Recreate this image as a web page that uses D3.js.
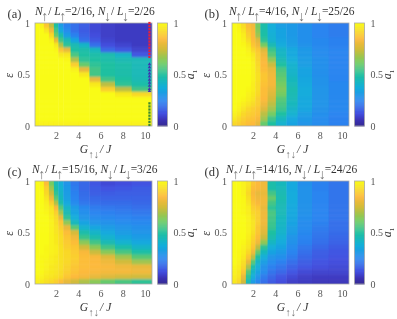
<!DOCTYPE html>
<html>
<head>
<meta charset="utf-8">
<script src="https://cdn.jsdelivr.net/npm/d3@7"></script>
<style>
html, body { margin: 0; padding: 0; background: #fff; }
svg { display: block; filter: blur(0.3px); }
text { font-family: "Liberation Serif", serif; fill: #333; }
</style>
</head>
<body>
<div id="chart"></div>
<script>
// G bin edges (columns) and epsilon values (rows, top to bottom)
var gEdges = [0.1, 0.5, 0.9, 1.35, 1.8, 2.2, 2.65, 3.3, 4.05, 5, 6, 7.3, 8.8, 10.63];
var epsRows = [1, .95, .9, .85, .8, .75, .7, .65, .6, .55, .5, .45, .4, .35, .3, .25, .2, .15, .1, .05, 0];
var xTicks = [2, 4, 6, 8, 10];
var yTicks = [0, 0.5, 1];

// a1 in percent, one line per epsilon row
var gridA = [
  [100,98,88,72,50,32,24,20,16,11,9,8,8],
  [100,100,95,82,55,36,27,20,15,11,9,8,8],
  [100,100,100,92,60,48,32,24,17,12,9,8,8],
  [100,100,100,98,80,55,46,34,20,14,10,8,8],
  [100,100,100,100,96,70,52,46,42,20,12,10,8],
  [100,100,100,100,99,88,80,50,48,44,18,14,10],
  [100,100,100,100,100,96,96,56,50,48,47,42,14],
  [100,100,100,100,100,100,99,70,52,50,48,46,45],
  [100,100,100,100,100,100,100,90,60,52,50,48,45],
  [100,100,100,100,100,100,100,98,80,55,50,48,45],
  [100,100,100,100,100,100,100,100,96,55,50,48,45],
  [100,100,100,100,100,100,100,100,100,80,55,50,46],
  [100,100,100,100,100,100,100,100,100,96,72,52,48],
  [100,100,100,100,100,100,100,100,100,100,90,72,55],
  [100,100,100,100,100,100,100,100,100,100,100,96,92],
  [100,100,100,100,100,100,100,100,100,100,100,100,100],
  [100,100,100,100,100,100,100,100,100,100,100,100,100],
  [100,100,100,100,100,100,100,100,100,100,100,100,100],
  [100,100,100,100,100,100,100,100,100,100,100,100,100],
  [100,100,100,100,100,100,100,100,100,100,100,100,100],
  [98,98,98,98,98,98,98,98,98,98,98,98,98]
];
var gridB = [
  [100,98,93,86,82,62,48,38,33,31,28,25,23],
  [100,99,95,88,84,64,48,38,34,31,28,25,23],
  [100,100,97,90,85,68,49,39,34,31,28,25,23],
  [100,100,98,93,86,78,52,40,35,32,28,26,24],
  [100,100,99,96,88,82,62,46,37,33,29,26,24],
  [100,100,100,98,92,88,78,54,42,36,31,27,25],
  [100,100,100,99,96,90,82,58,43,36,31,27,25],
  [100,100,100,100,97,91,84,66,46,38,32,28,25],
  [100,100,100,100,98,92,85,74,50,40,33,28,25],
  [100,100,100,100,98,93,86,80,56,41,34,28,25],
  [100,100,100,100,98,94,88,82,58,42,34,28,25],
  [100,100,100,100,98,94,88,83,60,44,35,29,25],
  [100,100,100,100,97,93,87,83,62,45,36,29,26],
  [100,100,100,99,97,93,86,80,64,47,37,30,26],
  [100,100,100,98,96,92,86,78,62,46,37,30,26],
  [100,100,99,97,95,90,85,75,58,45,36,30,26],
  [100,99,97,95,93,90,82,72,56,44,36,30,26],
  [100,98,95,92,90,88,78,68,54,42,35,29,26],
  [98,96,92,90,89,87,72,62,50,40,33,28,25],
  [96,93,90,88,87,84,68,55,44,36,31,27,24],
  [92,90,88,86,85,80,60,50,40,34,30,27,24]
];
var gridC = [
  [100,98,86,62,45,38,30,22,18,14,11,12,13],
  [100,99,90,68,48,40,31,23,18,15,13,14,15],
  [100,100,92,74,52,42,32,24,19,16,15,16,16],
  [100,100,95,82,58,44,33,25,20,18,17,17,17],
  [100,100,97,90,70,48,36,27,22,20,19,19,18],
  [100,100,98,95,85,58,42,32,26,23,22,21,20],
  [100,100,99,96,90,68,46,34,28,25,24,23,22],
  [100,100,100,97,93,80,52,38,30,27,26,25,24],
  [100,100,100,98,94,88,66,44,34,30,29,27,26],
  [100,100,100,98,95,90,80,58,40,35,32,30,28],
  [100,100,100,98,95,92,86,76,48,42,36,32,30],
  [100,100,100,98,96,93,88,82,54,47,40,35,32],
  [100,100,100,98,96,93,89,86,65,55,46,40,36],
  [100,100,99,98,97,94,90,88,75,65,55,48,42],
  [100,100,99,98,97,94,92,89,84,74,65,56,49],
  [100,99,99,97,96,94,92,90,86,84,78,68,58],
  [100,99,98,97,96,94,92,89,86,85,82,75,68],
  [100,99,98,96,95,94,91,88,86,85,84,82,80],
  [100,99,97,96,95,93,90,87,85,84,83,83,82],
  [99,98,96,95,94,92,88,85,83,80,78,76,75],
  [97,96,94,92,90,86,80,75,70,65,60,56,52]
];
var gridD = [
  [100,100,98,95,88,85,82,48,44,36,28,24,21],
  [100,100,98,94,86,84,82,48,45,36,29,24,21],
  [100,100,98,92,84,80,80,55,46,37,29,25,21],
  [100,100,99,94,86,82,82,60,47,37,29,25,21],
  [100,100,99,95,88,84,82,55,46,37,29,25,21],
  [100,100,99,97,90,88,80,52,45,36,29,25,21],
  [100,100,99,97,92,90,82,56,45,36,29,25,21],
  [100,100,100,98,94,90,82,55,44,35,28,25,21],
  [100,100,100,98,95,90,82,54,43,34,27,24,20],
  [100,100,100,98,95,88,80,53,42,33,27,23,20],
  [100,100,100,98,94,88,78,50,41,32,26,22,19],
  [100,100,100,97,92,86,74,47,39,30,25,21,18],
  [100,100,99,96,90,82,66,43,37,29,24,20,17],
  [100,100,98,95,88,72,52,38,34,27,22,18,15],
  [100,99,97,92,82,60,44,34,31,25,20,16,14],
  [100,99,96,88,72,50,38,30,28,23,18,15,13],
  [100,98,94,80,58,42,33,27,24,20,16,13,12],
  [99,97,92,70,48,38,29,24,21,17,14,12,11],
  [98,96,88,58,42,34,27,21,18,14,11,10,10],
  [97,95,80,52,38,30,23,18,14,11,9,8,8],
  [96,92,75,45,32,26,20,15,12,9,8,7,7]
];

// phase markers along the right edge of panel (a)
var redDots = [1, .97, .94, .91, .88, .85, .82, .79, .76, .73, .70, .67];
var blueDots = [.6, .57, .54, .51, .48, .45, .42, .39, .36, .34];
var greenDots = [.22, .19, .16, .13, .10, .07, .04, .01];

var panelLabels = ["(a)", "(b)", "(c)", "(d)"];
var fillings = [["2/16", "2/26"], ["4/16", "25/26"], ["15/16", "3/26"], ["14/16", "24/26"]];
var grids = [gridA, gridB, gridC, gridD];
var originX = [35, 232, 35, 232];
var originY = [23, 23, 181, 181];
var titleX = [35, 229, 32, 226];

// parula-like colour map, stops in percent
var colorStops = [0, 6, 12.5, 25, 37.5, 50, 62.5, 75, 85, 93, 100];
var colorValues = ["#352a90", "#3c32b4", "#4350e0", "#2a85f0", "#12aedb", "#1fc0a0", "#78cc5f", "#d2bb3a", "#fdb93a", "#f8dc25", "#f9fb15"];
var parula = d3.scaleLinear().domain(colorStops).range(colorValues);

var width = 397, height = 319, plotW = 117, plotH = 103;
var frameColor = "#aaa";

var svg = d3.select("#chart").append("svg").attr("width", width).attr("height", height);
var defs = svg.append("defs");
defs.append("filter").attr("id", "soft")
    .attr("x", "-5%").attr("y", "-5%").attr("width", "110%").attr("height", "110%")
  .append("feGaussianBlur").attr("stdDeviation", "0.55 1.1");
defs.append("clipPath").attr("id", "plotClip")
  .append("rect").attr("width", plotW).attr("height", plotH);

var x = d3.scaleLinear().domain([0.1, 10.63]).range([0, plotW]);
var y = d3.scaleLinear().domain([0, 1]).range([plotH, 0]);
var row = d3.scaleBand().domain(d3.range(epsRows.length)).range([0, plotH]);
var cbar = d3.scaleLinear().domain([0, 100]).range([plotH, 0]);

function drawPanel(i) {
  var g = svg.append("g").attr("transform", "translate(" + originX[i] + "," + originY[i] + ")");

  // heatmap cells, the outer ones run past the clip so the blur has no pale edge
  var heat = g.append("g").attr("clip-path", "url(#plotClip)").append("g").attr("filter", "url(#soft)");
  grids[i].forEach(function (values, r) {
    values.forEach(function (v, c) {
      var x0 = x(gEdges[c]) - (c == 0 ? 6 : 0);
      var x1 = x(gEdges[c + 1]) + (c == values.length - 1 ? 6 : 0);
      var y0 = row(r) - (r == 0 ? 6 : 0);
      var y1 = row(r) + row.bandwidth() + (r == epsRows.length - 1 ? 6 : 0);
      heat.append("rect").attr("x", x0).attr("y", y0)
        .attr("width", x1 - x0 + 0.4).attr("height", y1 - y0 + 0.4)
        .attr("fill", parula(v));
    });
  });

  g.append("rect").attr("width", plotW).attr("height", plotH)
    .attr("fill", "none").attr("stroke", frameColor).attr("stroke-width", 0.8);

  // axes, no tick marks in the original
  var xAxis = g.append("g").attr("transform", "translate(0," + plotH + ")")
    .call(d3.axisBottom(x).tickValues(xTicks).tickSize(0).tickPadding(6));
  var yAxis = g.append("g")
    .call(d3.axisLeft(y).tickValues(yTicks).tickSize(0).tickPadding(5).tickFormat(d3.format("")));
  [xAxis, yAxis].forEach(function (a) {
    a.select(".domain").remove();
    a.selectAll("text").style("font-family", "Liberation Serif").style("font-size", "10px").style("fill", "#555");
  });

  // colour bar
  var bar = g.append("g").attr("transform", "translate(" + (plotW + 5.5) + ",0)");
  d3.range(0, 100).forEach(function (v) {
    bar.append("rect").attr("x", 0).attr("y", cbar(v + 1)).attr("width", 10)
      .attr("height", cbar(v) - cbar(v + 1) + 0.4).attr("fill", parula(v + 0.5));
  });
  bar.append("rect").attr("width", 10).attr("height", plotH)
    .attr("fill", "none").attr("stroke", frameColor).attr("stroke-width", 0.8);
  var cAxis = bar.append("g").attr("transform", "translate(10,0)")
    .call(d3.axisRight(y).tickValues(yTicks).tickSize(0).tickPadding(6).tickFormat(d3.format("")));
  cAxis.select(".domain").remove();
  cAxis.selectAll("text").style("font-family", "Liberation Serif").style("font-size", "10px").style("fill", "#555");

  // axis titles
  g.append("text").attr("transform", "translate(-22," + (plotH / 2 + 1) + ") rotate(-90)")
    .attr("text-anchor", "middle").style("font-size", "12px").style("font-style", "italic").text("ε");

  var xl = g.append("text").attr("x", plotW / 2 + 2).attr("y", plotH + 27)
    .attr("text-anchor", "middle").style("font-size", "11.5px").style("font-style", "italic");
  xl.append("tspan").text("G");
  xl.append("tspan").attr("dy", 5).attr("dx", 0.5).style("font-size", "10.5px").style("font-style", "normal").style("fill", "#777").text("↑↓");
  xl.append("tspan").attr("dy", -5).attr("dx", 1).text("/ J");

  var al = g.append("text").attr("transform", "translate(" + (plotW + 42) + "," + (plotH / 2) + ") rotate(-90)")
    .attr("text-anchor", "middle").style("font-size", "12px").style("font-style", "italic");
  al.append("tspan").text("a");
  al.append("tspan").attr("dy", 3).style("font-size", "7px").style("font-style", "normal").text("1");

  // panel letter
  svg.append("text").attr("x", originX[i] - 27.5).attr("y", originY[i] - 5)
    .style("font-size", "12.5px").text(panelLabels[i]);

  // title with spin arrows as subscripts
  var t = svg.append("text").attr("x", titleX[i]).attr("y", originY[i] - 8).style("font-size", "11.5px");
  function it(s, dx) { t.append("tspan").attr("dx", dx).style("font-style", "italic").text(s); }
  function ar(s) {
    t.append("tspan").attr("dy", 6).attr("dx", -1.5).style("fill", "#777").style("font-size", "14px").text(s);
    t.append("tspan").attr("dy", -6).text("\u200a");
  }
  it("N", 0); ar("↑"); t.append("tspan").attr("dx", -1).text("/ "); it("L", 0); ar("↑");
  t.append("tspan").attr("dx", -2).text("=" + fillings[i][0] + ", ");
  it("N", 0); ar("↓"); t.append("tspan").attr("dx", -1).text("/ "); it("L", 0); ar("↓");
  t.append("tspan").attr("dx", -2).text("=" + fillings[i][1]);

  return g;
}

var panels = grids.map(function (d, i) { return drawPanel(i); });

// dots on panel (a) at the strongest coupling
function drawDots(values, color, shape) {
  panels[0].selectAll(null).data(values).enter().append("path")
    .attr("transform", function (d) { return "translate(" + x(10.4) + "," + y(d) + ")"; })
    .attr("d", d3.symbol().type(shape).size(5))
    .attr("fill", color);
}
drawDots(redDots, "#e8203a", d3.symbolSquare);
drawDots(blueDots, "#4030b0", d3.symbolTriangle);
drawDots(greenDots, "#3f8a30", d3.symbolSquare);
</script>
</body>
</html>
